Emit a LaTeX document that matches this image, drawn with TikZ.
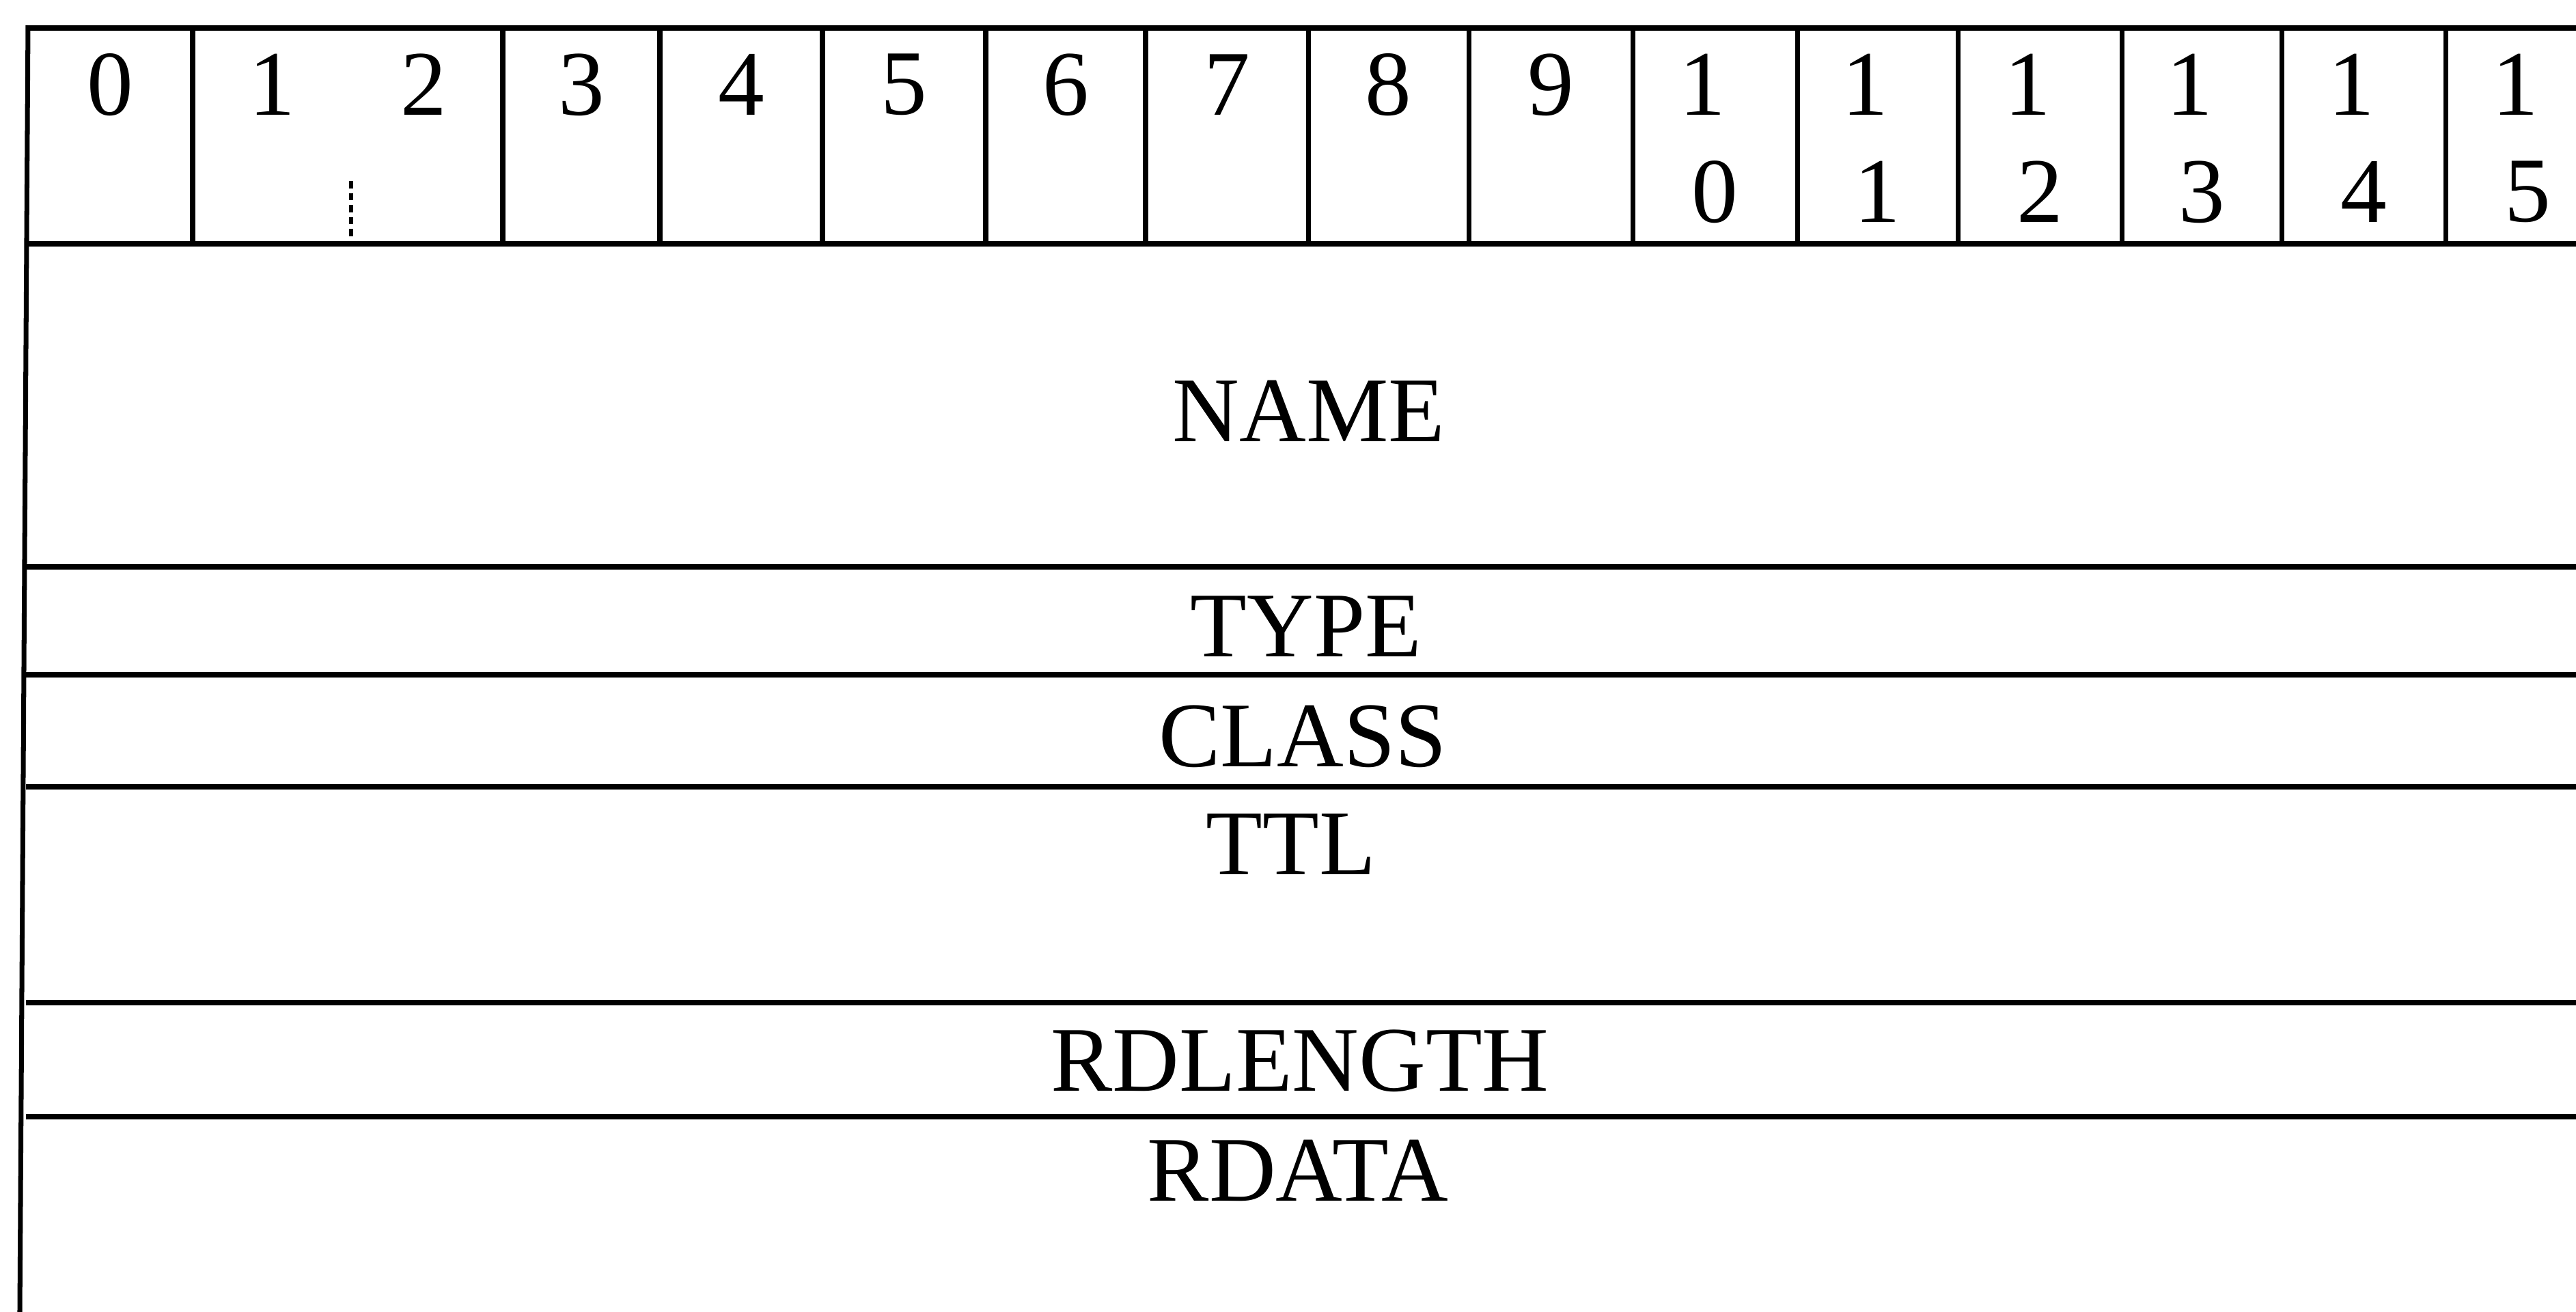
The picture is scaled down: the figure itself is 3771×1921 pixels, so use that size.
\documentclass[tikz,border=0pt]{standalone}
\usepackage{fontspec}
\setmainfont{Liberation Serif}
\usepackage{tikz}
\usetikzlibrary{positioning,calc}

\begin{document}
\begin{tikzpicture}[
    x=0.01cm, y=-0.01cm,
    rule/.style={draw=black, line width=2pt},
    bitnum/.style={inner sep=0pt, font=\fontsize{38.5}{46}\selectfont},
    field/.style={inner sep=0pt, font=\fontsize{38.5}{46}\selectfont}
]
    \useasboundingbox (0,0) rectangle (3771,1921);

    % Left border and the horizontal rules between the fields
    \draw[rule] (41,37) -- (29,1921);
    \foreach \y in {41,357,830,988,1152,1468,1635} {
        \draw[rule] (38,\y) -- (3771,\y);
    }

    % Column separators of the bit header
    \foreach \x in {282,736,966,1204,1443,1677,1915,2150,2390,2631,2866,3106,3340,3580} {
        \draw[rule] (\x,41) -- (\x,357);
    }
    \draw[densely dashed, line width=1.5pt] (514,265) -- (514,357);

    % Bit numbers, single digit
    \node[bitnum] (b0) at (161,124) {0};
    \node[bitnum] (b1) at (398,124) {1};
    \node[bitnum] (b2) at (620,124) {2};
    \foreach \n/\x in {3/851,4/1085,5/1323,6/1560,7/1796,8/2032,9/2270} {
        \node[bitnum] (b\n) at (\x,124) {\n};
    }

    % Bit numbers, two digits written one above the other
    \foreach \n/\x in {0/2510,1/2748,2/2986,3/3223,4/3460,5/3700} {
        \node[bitnum] (t1\n) at (\x-18,124) {1};
        \node[bitnum] (u1\n) at (\x,281) {\n};
    }

    % Field names
    \node[field] (name) at (1916,602) {NAME};
    \node[field] (type) at (1912,917) {TYPE};
    \node[field] (class) at (1907,1078) {CLASS};
    \node[field] (ttl) at (1890,1236) {TTL};
    \node[field] (rdlength) at (1903,1553) {RDLENGTH};
    \node[field] (rdata) at (1900,1714) {RDATA};
\end{tikzpicture}
\end{document}
